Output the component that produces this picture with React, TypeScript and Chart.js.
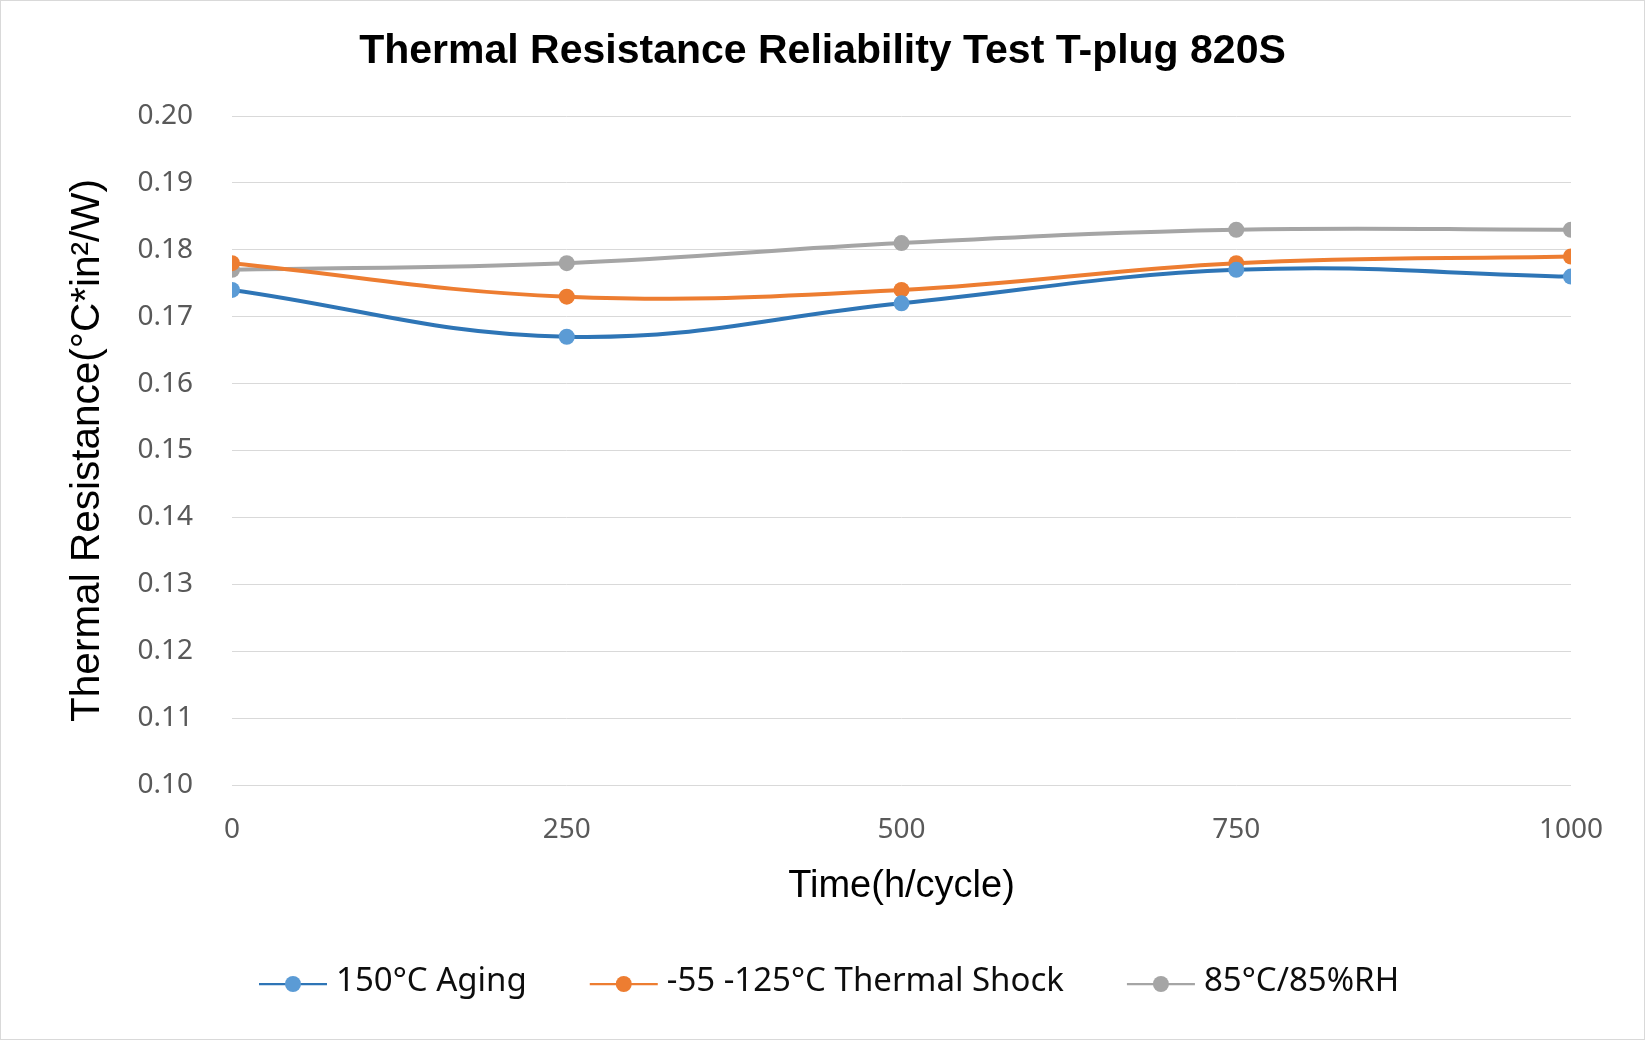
import React, { useEffect, useRef } from 'react';
import { Chart, registerables } from 'chart.js';

Chart.register(...registerables);

const timePoints = [0, 250, 500, 750, 1000];
const agingValues = [0.174, 0.167, 0.172, 0.177, 0.176];
const shockValues = [0.178, 0.173, 0.174, 0.178, 0.179];
const humidityValues = [0.177, 0.178, 0.181, 0.183, 0.183];
const seriesLabels = ['150°C Aging', '-55 -125°C Thermal Shock', '85°C/85%RH'];
const lineColors = ['#2E75B6', '#ED7D31', '#A5A5A5'];
const markerColors = ['#5B9BD5', '#ED7D31', '#A5A5A5'];
const chartTitle = 'Thermal Resistance Reliability Test T-plug 820S';
const xTitle = 'Time(h/cycle)';
const yTitle = 'Thermal Resistance(°C*in²/W)';

const W = 1643;
const H = 1038;

const titleAndLegend = {
  id: 'titleAndLegend',
  afterDraw(chart: any) {
    const ctx = chart.ctx;
    ctx.save();
    ctx.font = 'bold 41px "Liberation Sans", Arial, sans-serif';
    ctx.fillStyle = '#000000';
    ctx.textAlign = 'center';
    ctx.textBaseline = 'middle';
    ctx.fillText(chartTitle, chart.width / 2, 51);

    ctx.font = '33px "Noto Sans"';
    ctx.textAlign = 'left';
    let x = 258;
    const y = 983;
    chart.data.datasets.forEach((ds: any) => {
      ctx.strokeStyle = ds.borderColor;
      ctx.lineWidth = 2.25;
      ctx.beginPath();
      ctx.moveTo(x, y);
      ctx.lineTo(x + 68, y);
      ctx.stroke();
      ctx.fillStyle = ds.pointBackgroundColor;
      ctx.beginPath();
      ctx.arc(x + 34, y, 8, 0, Math.PI * 2);
      ctx.fill();
      ctx.fillStyle = '#0d0d0d';
      ctx.fillText(ds.label, x + 77, y - 2);
      x += 77 + ctx.measureText(ds.label).width + 63;
    });
    ctx.restore();
  },
};

export default function App() {
  const canvasRef = useRef<HTMLCanvasElement | null>(null);

  useEffect(() => {
    document.body.style.margin = '0';
    const canvas = canvasRef.current;
    if (!canvas) return;
    const series = [agingValues, shockValues, humidityValues];
    const chart = new Chart(canvas, {
      type: 'line',
      data: {
        datasets: series.map((vals, i) => ({
          label: seriesLabels[i],
          data: timePoints.map((t, j) => ({ x: t, y: vals[j] })),
          borderColor: lineColors[i],
          backgroundColor: markerColors[i],
          pointBackgroundColor: markerColors[i],
          pointBorderColor: markerColors[i],
          pointRadius: 8,
          pointBorderWidth: 0,
          borderWidth: 4,
          tension: 0.4,
          fill: false,
        })),
      },
      options: {
        responsive: false,
        animation: false,
        devicePixelRatio: 1,
        layout: { padding: { left: 0, right: 73, top: 115, bottom: 130 } },
        plugins: {
          legend: { display: false },
          tooltip: { enabled: false },
          title: { display: false },
        },
        scales: {
          x: {
            type: 'linear',
            min: 0,
            max: 1000,
            afterFit: (scale: any) => {
              scale.height = 124;
            },
            grid: { display: false, drawTicks: false },
            border: { display: false },
            ticks: {
              stepSize: 250,
              padding: 28,
              color: '#595959',
              font: { family: '"Noto Sans", sans-serif', size: 28, lineHeight: 1.2 },
              maxRotation: 0,
              callback: (v: any) => String(v),
            },
            title: {
              display: true,
              text: xTitle,
              color: '#000000',
              font: { family: '"Liberation Sans", Arial, sans-serif', size: 38, lineHeight: 1.2 },
              padding: { top: 0, bottom: 0 },
            },
          },
          y: {
            min: 0.1,
            max: 0.2,
            afterFit: (scale: any) => {
              scale.width = 231;
            },
            grid: { color: '#d9d9d9', lineWidth: 1, drawTicks: false },
            border: { display: false },
            ticks: {
              stepSize: 0.01,
              padding: 39,
              color: '#595959',
              font: { family: '"Noto Sans", sans-serif', size: 28, lineHeight: 1.2 },
              callback: (v: any) => Number(v).toFixed(2),
            },
            title: {
              display: true,
              text: yTitle,
              color: '#000000',
              font: { family: '"Liberation Sans", Arial, sans-serif', size: 40.5, lineHeight: 1.2 },
              padding: { top: 63, bottom: 0 },
            },
          },
        },
      },
      plugins: [titleAndLegend],
    });
    return () => chart.destroy();
  }, []);

  return (
    <div
      style={{
        width: 1645,
        height: 1040,
        border: '1px solid #d9d9d9',
        boxSizing: 'border-box',
        background: '#ffffff',
      }}
    >
      <canvas ref={canvasRef} width={W} height={H} style={{ display: 'block' }} />
    </div>
  );
}
